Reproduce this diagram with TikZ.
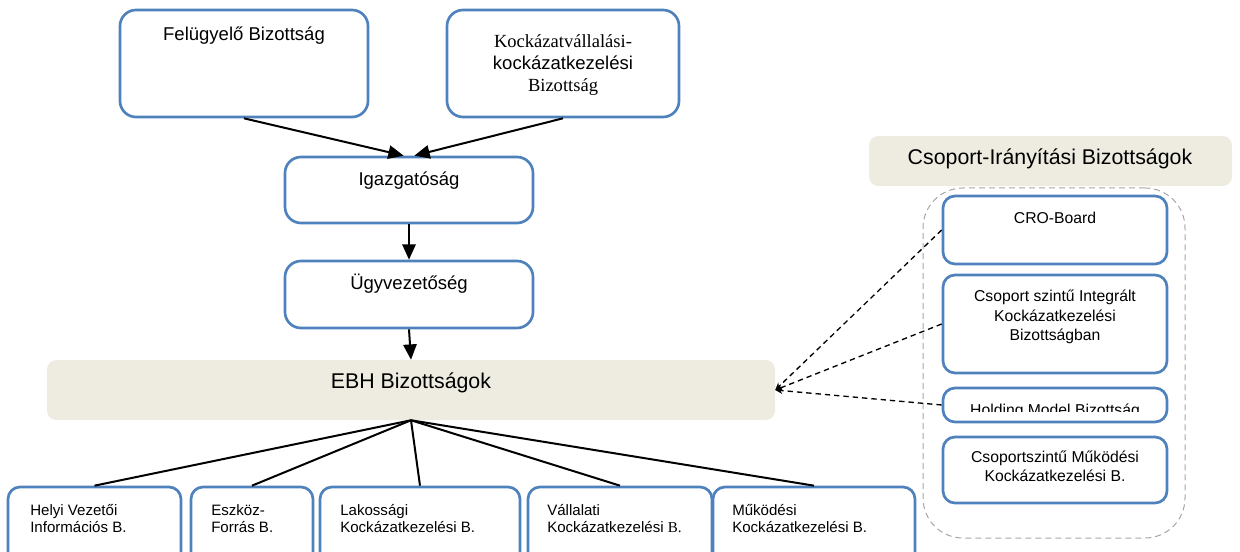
\documentclass[tikz,border=0pt]{standalone}
\usepackage{fontspec}
\setmainfont{Liberation Sans}
\newfontfamily\timesfont{Liberation Serif}
\usetikzlibrary{arrows.meta,fit,positioning}

\definecolor{boxblue}{HTML}{4F81BD}
\definecolor{tanfill}{HTML}{EEECE1}
\definecolor{grpgray}{HTML}{A6A6A6}

\tikzset{
	bluebox/.style={draw=boxblue, line width=2pt, rounded corners=12pt, inner sep=0pt},
	smallbox/.style={bluebox, rounded corners=9pt},
	tanbox/.style={fill=tanfill, rounded corners=7pt, inner sep=0pt},
	grpbox/.style={draw=grpgray, line width=0.75pt, dash pattern=on 4.5pt off 3pt, rounded corners=30pt, inner sep=0pt},
	link/.style={line width=1.5pt},
	arr/.style={link, -{Triangle[length=11.5pt,width=10pt]}},
	dotarr/.style={line width=1pt, dash pattern=on 4pt off 3pt, -{Stealth[length=5.5pt,width=5pt]}},
	bigtxt/.style={font=\fontsize{13.9}{16.5}\selectfont, align=center, inner sep=0pt},
	headtxt/.style={font=\fontsize{16}{19}\selectfont, inner sep=0pt},
	smalltxt/.style={font=\fontsize{11.8}{14.5}\selectfont, align=center, inner sep=0pt},
	bottxt/.style={font=\fontsize{11.3}{12.8}\selectfont, align=left, inner sep=0pt, anchor=west}
}

\begin{document}
\begin{tikzpicture}[x=0.75pt,y=-0.75pt]
	\useasboundingbox (0,0) rectangle (1240,552);
	\clip (0,0) rectangle (1240,552);

	% top
	\node[bluebox, fit={(120,10) (368,117)}] (felu) {};
	\node[bigtxt] (felu-t) at (244,36) {Felügyelő Bizottság};
	\node[bluebox, fit={(447,10) (679,117)}] (kock) {};
	\node[bigtxt] (kock-t) at (563,65) {{\timesfont Kockázatvállalási-}\\kockázatkezelési\\{\timesfont Bizottság}};

	\node[bluebox, fit={(285,157) (533,223)}] (igaz) {};
	\node[bigtxt] (igaz-t) at (409,181) {Igazgatóság};
	\node[bluebox, fit={(285,261) (533,328)}] (ugyv) {};
	\node[bigtxt] (ugyv-t) at (409,284) {Ügyvezetőség};

	\node[tanbox, fit={(47,360) (775,420)}] (ebh) {};
	\node[headtxt] (ebh-t) at (411,383) {EBH Bizottságok};

	\draw[arr] (felu.south) -- ([xshift=-4pt]igaz.north);
	\draw[arr] (kock.south) -- ([xshift=4pt]igaz.north);
	\draw[arr] (igaz.south) -- (ugyv.north);
	\draw[arr] (ugyv.south) -- (ebh.north);

	% bottom row
	\node[smallbox, fit={(8,487) (181,580)}] (helyi) {};
	\node[bottxt] (helyi-t) at (30,518.5) {Helyi Vezetői\\Információs B.};
	\node[smallbox, fit={(191,487) (313,580)}] (eszk) {};
	\node[bottxt] (eszk-t) at (211,518.5) {Eszköz-\\Forrás B.};
	\node[smallbox, fit={(320,487) (520,580)}] (lak) {};
	\node[bottxt] (lak-t) at (340,518.5) {Lakossági\\Kockázatkezelési B.};
	\node[smallbox, fit={(528,487) (712,580)}] (vall) {};
	\node[bottxt] (vall-t) at (547,518.5) {Vállalati\\Kockázatkezelési {\timesfont B.}};
	\node[smallbox, fit={(713,487) (915,580)}] (muk) {};
	\node[bottxt] (muk-t) at (732,518.5) {Működési\\Kockázatkezelési B.};

	\foreach \b in {helyi,eszk,lak,vall,muk}
		\draw[link] (ebh.south) -- (\b.north);

	% csoport
	\node[tanbox, fit={(869,136) (1232,186)}] (csop) {};
	\node[headtxt] (csop-t) at (1050,159) {Csoport-Irányítási Bizottságok};
	\node[grpbox, fit={(923,188) (1185,538)}] (grp) {};

	\node[smallbox, fit={(943,196) (1167,264)}] (cro) {};
	\node[smalltxt] (cro-t) at (1055,218) {CRO-Board};
	\node[smallbox, fit={(943,275) (1167,373)}] (integ) {};
	\node[smalltxt] (integ-t) at (1055,317) {Csoport szintű Integrált\\Kockázatkezelési\\Bizottságban};
	\node[smallbox, fit={(943,388) (1167,422)}] (hold) {};
	\begin{scope}
		\clip (943,388) rectangle (1167,412);
		\node[smalltxt, anchor=base] (hold-t) at (1055,415.5) {Holding Model Bizottság};
	\end{scope}
	\node[smallbox, fit={(943,437) (1167,503)}] (cmuk) {};
	\node[smalltxt] (cmuk-t) at (1055,466) {Csoportszintű Működési\\Kockázatkezelési B.};

	\draw[dotarr] (cro.west) -- (ebh.east);
	\draw[dotarr] (integ.west) -- (ebh.east);
	\draw[dotarr] (hold.west) -- (ebh.east);
\end{tikzpicture}
\end{document}
